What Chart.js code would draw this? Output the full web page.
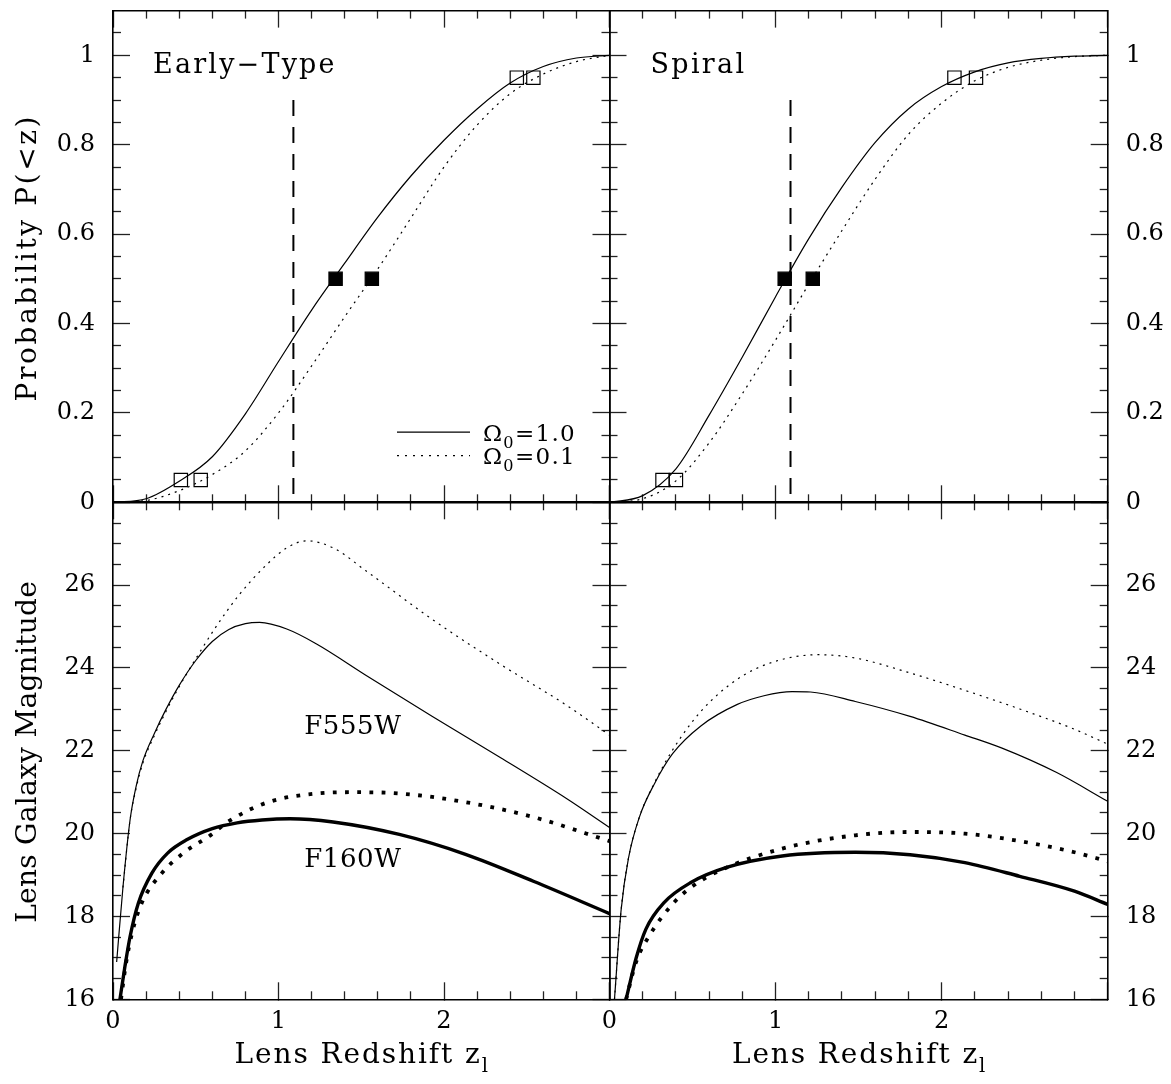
<html>
  <head>
    <script type="text/javascript" src="https://cdn.jsdelivr.net/npm/chart.js@4.4.1/dist/chart.umd.min.js"></script>
    <style>
      body { margin: 0; background: #fff; }
      canvas { position: absolute; left: 0; top: 0; }
    </style>
  </head>
  <body>
    <canvas id="tl" width="1171" height="1084"></canvas>
    <canvas id="tr" width="1171" height="1084"></canvas>
    <canvas id="bl" width="1171" height="1084"></canvas>
    <canvas id="br" width="1171" height="1084"></canvas>
    <script type="text/javascript">

// ---- data ----

// ticks
var zTicks = [0, 1, 2, 3]
var zMinor = [0.2, 0.4, 0.6, 0.8, 1.2, 1.4, 1.6, 1.8, 2.2, 2.4, 2.6, 2.8]
var zLabels = ['0', '1', '2', '']
var pTicks = [0, 0.2, 0.4, 0.6, 0.8, 1]
var pMinor = [0.05, 0.1, 0.15, 0.25, 0.3, 0.35, 0.45, 0.5, 0.55, 0.65, 0.7, 0.75, 0.85, 0.9, 0.95, 1.05]
var pLabels = ['0', '0.2', '0.4', '0.6', '0.8', '1']
var mTicks = [16, 18, 20, 22, 24, 26]
var mMinor = [16.5, 17, 17.5, 18.5, 19, 19.5, 20.5, 21, 21.5, 22.5, 23, 23.5, 24.5, 25, 25.5, 26.5, 27, 27.5]
var mLabels = ['16', '18', '20', '22', '24', '26']

// cumulative probability, sampled every 0.2 in z
var zGrid = [0, 0.2, 0.4, 0.6, 0.8, 1.0, 1.2, 1.4, 1.6, 1.8, 2.0, 2.2, 2.4, 2.6, 2.8, 3.0]
var etP1 = [0, 0.008, 0.047, 0.102, 0.198, 0.315, 0.43, 0.535, 0.638, 0.73, 0.81, 0.88, 0.938, 0.975, 0.994, 1.0]
var etP2 = [0, 0.004, 0.026, 0.062, 0.115, 0.2, 0.305, 0.415, 0.522, 0.636, 0.75, 0.844, 0.914, 0.958, 0.986, 1.0]
var spP1 = [0, 0.015, 0.075, 0.195, 0.325, 0.46, 0.59, 0.705, 0.805, 0.88, 0.93, 0.963, 0.983, 0.993, 0.998, 1.0]
var spP2 = [0, 0.008, 0.048, 0.133, 0.243, 0.363, 0.488, 0.608, 0.723, 0.823, 0.893, 0.943, 0.973, 0.989, 0.997, 1.0]

// 5%, 50% and 95% points
var etOpen1 = [0.41, 2.44]
var etOpen2 = [0.53, 2.54]
var etHalf = [1.345, 1.564]
var spOpen1 = [0.319, 2.077]
var spOpen2 = [0.40, 2.207]
var spHalf = [1.055, 1.224]
var openP = [0.05, 0.95]
var halfP = [0.5, 0.5]
var cutZ = [1.09, 1.09]
var cutP = [0.9, 0]

// early-type, magnitudes
var etZv1 = [0.022, 0.06, 0.103, 0.14, 0.18, 0.25, 0.32, 0.4, 0.5, 0.6, 0.7, 0.8, 0.886, 1.05, 1.23, 1.53, 1.93, 2.34, 2.74, 3.0]
var etMv1 = [16.9, 18.7, 20.33, 21.15, 21.75, 22.42, 23.0, 23.58, 24.18, 24.64, 24.93, 25.07, 25.1, 24.94, 24.58, 23.82, 22.83, 21.84, 20.85, 20.15]
var etZv2 = [0.06, 0.103, 0.14, 0.18, 0.25, 0.32, 0.4, 0.5, 0.62, 0.765, 0.93, 1.05, 1.17, 1.33, 1.53, 1.93, 2.34, 2.74, 3.0]
var etMv2 = [18.7, 20.33, 21.1, 21.7, 22.37, 22.95, 23.55, 24.22, 24.98, 25.78, 26.5, 26.9, 27.07, 26.9, 26.34, 25.17, 24.09, 23.1, 22.38]
var etZh1 = [0.042, 0.072, 0.103, 0.153, 0.234, 0.33, 0.445, 0.6, 0.75, 0.9, 1.07, 1.33, 1.73, 2.13, 2.54, 3.0]
var etMh1 = [16, 16.79, 17.51, 18.32, 19.04, 19.53, 19.85, 20.12, 20.26, 20.33, 20.36, 20.28, 19.98, 19.5, 18.85, 18.07]
var etZh2 = [0.048, 0.08, 0.115, 0.173, 0.294, 0.425, 0.592, 0.7, 0.93, 1.23, 1.45, 1.73, 2.13, 2.54, 3.0]
var etMh2 = [16, 16.9, 17.6, 18.32, 19.04, 19.53, 19.97, 20.3, 20.75, 20.97, 21.0, 20.97, 20.76, 20.4, 19.82]

// spiral, magnitudes
var spZv1 = [0.03, 0.07, 0.114, 0.18, 0.27, 0.38, 0.55, 0.77, 0.93, 1.1, 1.21, 1.48, 1.81, 2.14, 2.36, 2.69, 3.0]
var spMv1 = [16, 18.16, 19.4, 20.4, 21.2, 21.93, 22.6, 23.12, 23.33, 23.43, 23.42, 23.19, 22.83, 22.38, 22.07, 21.48, 20.78]
var spZv2 = [0.03, 0.07, 0.114, 0.18, 0.27, 0.38, 0.55, 0.77, 0.99, 1.26, 1.48, 1.81, 2.14, 2.47, 2.8, 3.0]
var spMv2 = [16, 18.16, 19.4, 20.4, 21.22, 22.02, 22.95, 23.73, 24.15, 24.32, 24.24, 23.88, 23.46, 23.01, 22.52, 22.16]
var spZh1 = [0.1, 0.16, 0.22, 0.33, 0.49, 0.71, 1.04, 1.48, 1.81, 2.14, 2.47, 2.8, 3.0]
var spMh1 = [16, 16.99, 17.7, 18.34, 18.82, 19.19, 19.46, 19.55, 19.49, 19.3, 18.97, 18.61, 18.29]
var spZh2 = [0.1, 0.16, 0.25, 0.38, 0.49, 0.66, 1.04, 1.48, 1.81, 2.14, 2.47, 2.8, 3.0]
var spMh2 = [16, 16.9, 17.6, 18.3, 18.7, 19.1, 19.64, 19.96, 20.04, 20.0, 19.82, 19.55, 19.33]

// ---- layout ----

var FONT = "'DejaVu Serif', serif"
var frameX = [113, 609.5, 1107.7]
var frameY = [5, 502.3, 999.3]
var PAGE_W = 1171, PAGE_H = 1084
var LABEL_W = 60, LABEL_H = 45

function pts(xs, ys) {
  return xs.map(function (x, i) { return { x: x, y: ys[i] } })
}

function curve(xs, ys, width, dash) {
  return {
    data: pts(xs, ys), borderColor: '#000', borderWidth: width, borderDash: dash || [],
    pointRadius: 0, cubicInterpolationMode: 'monotone', fill: false
  }
}

function squares(xs, ys, filled) {
  return {
    data: pts(xs, ys), showLine: false, pointStyle: 'rect', pointRadius: 9.4,
    pointBorderWidth: 1.2, pointBorderColor: '#000',
    pointBackgroundColor: filled ? '#000' : 'rgba(0,0,0,0)'
  }
}

function cutLine() {
  return {
    data: pts(cutZ, cutP), borderColor: '#000', borderWidth: 2, borderDash: [16, 11],
    pointRadius: 0, tension: 0, fill: false
  }
}

// one axis; ticks point inwards (negative tick length); labelled axes keep a box
// wide enough for their labels, since Chart.js clips labels to the axis box
function axis(pos, min, max, ticks, len, labels, border, pad) {
  var vertical = pos === 'left' || pos === 'right'
  var size = labels ? (vertical ? LABEL_W : LABEL_H) : 0
  return {
    type: 'linear', position: pos, min: min, max: max, weight: labels ? 2 : (border ? 1 : 0),
    afterBuildTicks: function (s) { s.ticks = ticks.map(function (v) { return { value: v } }) },
    afterFit: function (s) {
      if (vertical) s.width = size; else s.height = size
      s.paddingTop = s.paddingBottom = s.paddingLeft = s.paddingRight = 0
    },
    grid: { drawOnChartArea: false, drawTicks: true, tickLength: -len, tickColor: '#222', tickWidth: 1.3 },
    border: { display: border, color: '#000', width: 1.6 },
    ticks: labels ? {
      display: true, autoSkip: false, maxRotation: 0, padding: pad, color: '#000',
      font: { family: FONT, size: 24 },
      callback: function (v, i) { return labels[i] }
    } : { display: false }
  }
}

function scaleSet(yMin, yMax, yT, yM, yLab, leftLabels, xLabels) {
  return {
    x: axis('bottom', 0, 3, zTicks, 17, xLabels ? zLabels : null, true, 25),
    xm: axis('bottom', 0, 3, zMinor, 8, null, false),
    xt: axis('top', 0, 3, zTicks, 17, null, true),
    xtm: axis('top', 0, 3, zMinor, 8, null, false),
    y: axis('left', yMin, yMax, yT, 17, leftLabels ? yLab : null, true, 35),
    ym: axis('left', yMin, yMax, yM, 8, null, false),
    yr: axis('right', yMin, yMax, yT, 17, leftLabels ? null : yLab, true, 35),
    yrm: axis('right', yMin, yMax, yM, 8, null, false)
  }
}

function drawRich(ctx, parts, x, y, size, align, rotate, spacing) {
  ctx.save()
  ctx.translate(x, y)
  if (rotate) ctx.rotate(rotate)
  ctx.fillStyle = '#000'
  ctx.textBaseline = 'alphabetic'
  ctx.letterSpacing = (spacing || 0) + 'px'
  var widths = parts.map(function (p) {
    ctx.font = (p[1] ? size * 0.7 : size) + 'px ' + FONT
    return ctx.measureText(p[0]).width
  })
  var total = widths.reduce(function (a, b) { return a + b }, 0) - (spacing || 0)
  var cx = align === 'center' ? -total / 2 : 0
  parts.forEach(function (p, i) {
    ctx.font = (p[1] ? size * 0.7 : size) + 'px ' + FONT
    ctx.fillText(p[0], cx, p[1] ? size * 0.33 : 0)
    cx += widths[i]
  })
  ctx.restore()
}

function panel(id, area, datasets, scales, decorate) {
  var ctx = document.getElementById(id).getContext('2d')
  var leftW = scales.y.ticks.display ? LABEL_W : 0
  var rightW = scales.yr.ticks.display ? LABEL_W : 0
  var bottomH = scales.x.ticks.display ? LABEL_H : 0
  var config = {
    type: 'line',
    data: { datasets: datasets },
    options: {
      responsive: false, animation: false, devicePixelRatio: 1,
      layout: { padding: {
        left: area[0] - leftW, right: PAGE_W - area[1] - rightW,
        top: area[2], bottom: PAGE_H - area[3] - bottomH
      } },
      plugins: { legend: { display: false }, tooltip: { enabled: false } },
      scales: scales
    },
    plugins: [{ id: 'decor', afterDraw: function (chart) { decorate(chart, chart.ctx) } }]
  }
  return new Chart(ctx, config)
}

var zTitle = [['Lens Redshift z'], ['l', 1]]

// top left: early-type probability
panel('tl', [frameX[0], frameX[1], frameY[0], frameY[1]], [
  curve(zGrid, etP1, 1.2),
  curve(zGrid, etP2, 1.2, [2, 5]),
  cutLine(),
  squares(etOpen1, openP, false),
  squares(etOpen2, openP, false),
  squares(etHalf, halfP, true)
], scaleSet(0, 1.1, pTicks, pMinor, pLabels, true, false), function (chart, ctx) {
  var a = chart.chartArea
  drawRich(ctx, [['Early\u2212Type']], a.left + 40, a.top + 62, 27, 'left', 0, 2.2)
  drawRich(ctx, [['Probability P(<z)']], 36, 259, 28, 'center', -Math.PI / 2, 2.6)
  // legend
  var lx = a.left + 284, lw = 73
  ctx.save()
  ctx.strokeStyle = '#000'
  ctx.lineWidth = 1.2
  ctx.beginPath(); ctx.moveTo(lx, a.top + 421.5); ctx.lineTo(lx + lw, a.top + 421.5); ctx.stroke()
  ctx.setLineDash([2, 6])
  ctx.beginPath(); ctx.moveTo(lx, a.top + 445); ctx.lineTo(lx + lw, a.top + 445); ctx.stroke()
  ctx.restore()
  drawRich(ctx, [['\u03a9'], ['0', 1], ['=1.0']], lx + 86, a.top + 430, 23, 'left', 0, 1.3)
  drawRich(ctx, [['\u03a9'], ['0', 1], ['=0.1']], lx + 86, a.top + 453, 23, 'left', 0, 1.3)
})

// top right: spiral probability
panel('tr', [frameX[1], frameX[2], frameY[0], frameY[1]], [
  curve(zGrid, spP1, 1.2),
  curve(zGrid, spP2, 1.2, [2, 5]),
  cutLine(),
  squares(spOpen1, openP, false),
  squares(spOpen2, openP, false),
  squares(spHalf, halfP, true)
], scaleSet(0, 1.1, pTicks, pMinor, pLabels, false, false), function (chart, ctx) {
  var a = chart.chartArea
  drawRich(ctx, [['Spiral']], a.left + 41, a.top + 62, 27, 'left', 0, 2.3)
})

// bottom left: early-type magnitudes
panel('bl', [frameX[0], frameX[1], frameY[1], frameY[2]], [
  curve(etZv1, etMv1, 1.2),
  curve(etZv2, etMv2, 1.2, [2, 5]),
  curve(etZh1, etMh1, 3.4),
  curve(etZh2, etMh2, 3.8, [3.8, 8.4])
], scaleSet(16, 28, mTicks, mMinor, mLabels, true, true), function (chart, ctx) {
  var xs = chart.scales.x, ys = chart.scales.y
  drawRich(ctx, [['F555W']], xs.getPixelForValue(1.155), ys.getPixelForValue(22.4), 26, 'left', 0, 0.6)
  drawRich(ctx, [['F160W']], xs.getPixelForValue(1.155), ys.getPixelForValue(19.2), 26, 'left', 0, 0.6)
  drawRich(ctx, [['Lens Galaxy Magnitude']], 36, 752, 28, 'center', -Math.PI / 2, 0.3)
  drawRich(ctx, zTitle, (frameX[0] + frameX[1]) / 2, 1063, 28, 'center', 0, 1.9)
})

// bottom right: spiral magnitudes
panel('br', [frameX[1], frameX[2], frameY[1], frameY[2]], [
  curve(spZv1, spMv1, 1.2),
  curve(spZv2, spMv2, 1.2, [2, 5]),
  curve(spZh1, spMh1, 3.4),
  curve(spZh2, spMh2, 3.8, [3.8, 8.4])
], scaleSet(16, 28, mTicks, mMinor, mLabels, false, true), function (chart, ctx) {
  drawRich(ctx, zTitle, (frameX[1] + frameX[2]) / 2, 1063, 28, 'center', 0, 1.9)
})

    </script>
  </body>
</html>
